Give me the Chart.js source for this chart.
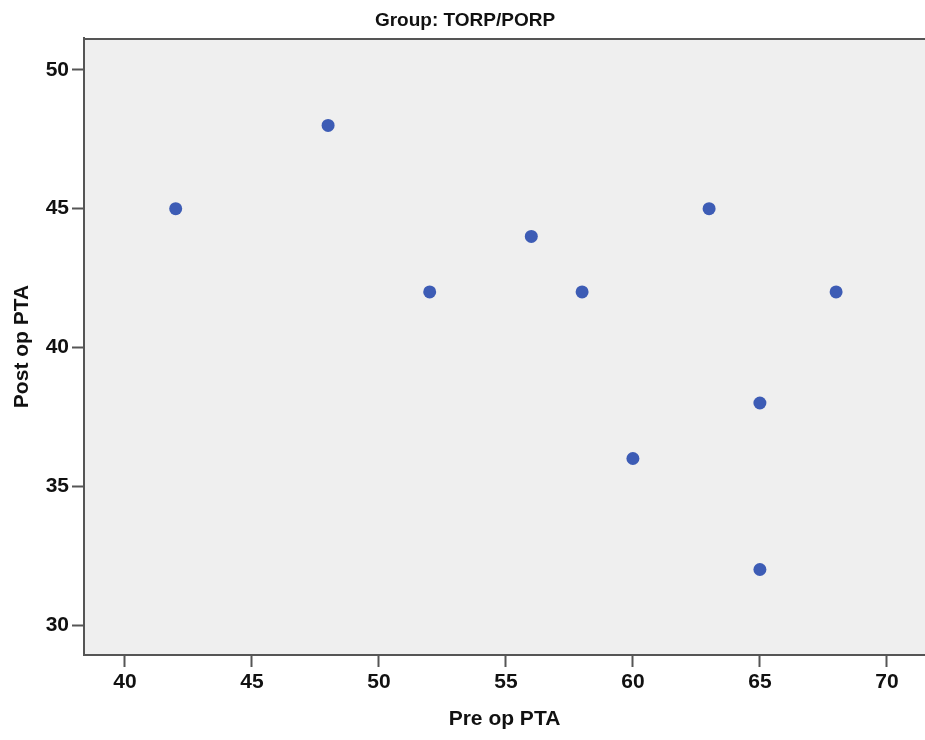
<!DOCTYPE html>
<html>
<head>
<meta charset="utf-8">
<script src="https://cdn.jsdelivr.net/npm/chart.js@4"></script>
<style>
  html, body { margin: 0; padding: 0; background: #fff; overflow: hidden; }
  canvas { display: block; }
</style>
</head>
<body>
<canvas id="c" width="925" height="740"></canvas>
<script>
// --- data ---
const chartTitle = 'Group: TORP/PORP';
const preOpPTA  = [42, 48, 52, 56, 58, 63, 68, 65, 60, 65];
const postOpPTA = [45, 48, 42, 44, 42, 45, 42, 38, 36, 32];
const xTicks = [40, 45, 50, 55, 60, 65, 70];
const yTicks = [30, 35, 40, 45, 50];

const axisColor = '#555555';
const tickFont = { family: "'Liberation Sans Narrow', 'Liberation Sans', Arial", size: 21, weight: 'bold' };
const titleFont = { family: "'Liberation Sans', Arial", size: 21, weight: 'bold' };

// panel background + top frame + group title
const frame = {
    id: 'frame',
    beforeDraw(chart) {
        const { ctx, chartArea: a } = chart;
        ctx.save();
        ctx.fillStyle = '#efefef';
        ctx.fillRect(a.left, a.top, a.right - a.left, a.bottom - a.top);
        ctx.restore();
    },
    afterDraw(chart) {
        const { ctx, chartArea: a } = chart;
        ctx.save();
        ctx.strokeStyle = axisColor;
        ctx.lineWidth = 2;
        ctx.beginPath();
        ctx.moveTo(a.left, a.top + 1);
        ctx.lineTo(a.right, a.top + 1);
        ctx.stroke();
        ctx.fillStyle = '#111';
        ctx.font = "bold 19px 'Liberation Sans', Arial";
        ctx.textAlign = 'center';
        ctx.textBaseline = 'middle';
        ctx.fillText(chartTitle, 465, 21);
        ctx.restore();
    }
};

new Chart(document.getElementById('c'), {
    type: 'scatter',
    data: {
        datasets: [{
            data: preOpPTA.map((x, i) => ({ x: x, y: postOpPTA[i] })),
            backgroundColor: '#3d5cb5',
            borderWidth: 0,
            pointRadius: 6.5,
            pointHoverRadius: 6.5
        }]
    },
    options: {
        responsive: false,
        animation: false,
        layout: { autoPadding: false, padding: { top: 38, right: 0, bottom: 0, left: 0 } },
        plugins: { legend: { display: false }, tooltip: { enabled: false } },
        scales: {
            x: {
                min: 38.39,
                max: 71.5,
                afterBuildTicks: (s) => { s.ticks = xTicks.map(v => ({ value: v })); },
                afterFit: (s) => { s.height = 85; s.paddingLeft = 0; s.paddingRight = 0; },
                border: { display: true, color: axisColor, width: 2 },
                grid: { drawOnChartArea: false, drawTicks: true, tickLength: 12, tickColor: axisColor, tickWidth: 2 },
                ticks: { color: '#111', font: tickFont, padding: 3, maxRotation: 0 },
                title: { display: true, text: 'Pre op PTA', color: '#111', font: titleFont, padding: { top: 0, bottom: 8 } }
            },
            y: {
                min: 28.92,
                max: 51.15,
                afterBuildTicks: (s) => { s.ticks = yTicks.map(v => ({ value: v })); },
                afterFit: (s) => { s.width = 84; s.paddingTop = 0; s.paddingBottom = 0; },
                border: { display: true, color: axisColor, width: 2 },
                grid: { drawOnChartArea: false, drawTicks: true, tickLength: 12, tickColor: axisColor, tickWidth: 2 },
                ticks: { color: '#111', font: tickFont, padding: 3 },
                title: { display: true, text: 'Post op PTA', color: '#111', font: titleFont, padding: { top: 10, bottom: 0 } }
            }
        }
    },
    plugins: [frame]
});
</script>
</body>
</html>
